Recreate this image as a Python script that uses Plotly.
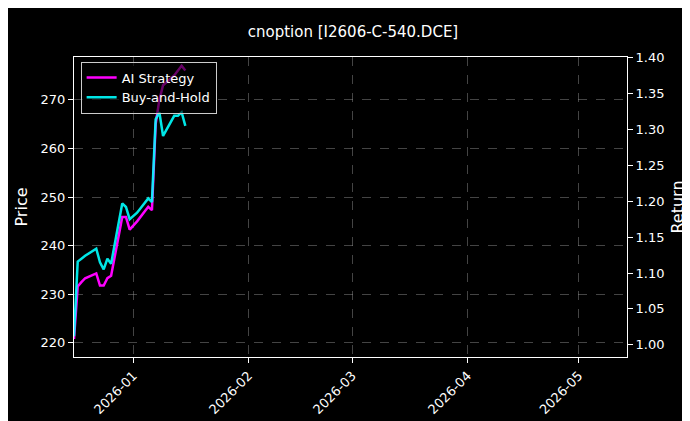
import plotly.graph_objects as go

dates = ["2025-12-16","2025-12-17","2025-12-18","2025-12-19","2025-12-22","2025-12-23","2025-12-24",
         "2025-12-25","2025-12-26","2025-12-29","2025-12-30","2025-12-31","2026-01-02","2026-01-05",
         "2026-01-06","2026-01-07","2026-01-08","2026-01-09","2026-01-12","2026-01-13","2026-01-14","2026-01-15"]
ai_price = [220.8,231.6,232.5,233.3,234.3,231.8,231.8,233.3,233.8,245.9,245.9,243.3,245.0,248.0,
            247.3,265.0,270.0,273.0,275.0,276.0,277.0,276.0]
bh_return = [1.012,1.116,1.120,1.124,1.134,1.115,1.105,1.120,1.113,1.197,1.192,1.175,1.184,1.204,
             1.199,1.314,1.324,1.291,1.319,1.319,1.324,1.305]

fig = go.Figure()
fig.add_trace(go.Scatter(x=dates, y=ai_price, name="AI Strategy", mode="lines",
                         line=dict(color="#ff00ff", width=2.5)))
fig.add_trace(go.Scatter(x=dates, y=bh_return, name="Buy-and-Hold", mode="lines", yaxis="y2",
                         line=dict(color="#00ffff", width=2.5), opacity=0.9))

base = dict(gridcolor="rgba(150,150,150,0.45)", griddash="dash", gridwidth=0.6,
            showline=True, linecolor="white", ticks="outside", tickcolor="white",
            zeroline=False, tickfont=dict(color="white", size=13))
fig.update_layout(
    width=690, height=421, paper_bgcolor="black", plot_bgcolor="black",
    font=dict(family="DejaVu Sans", color="white", size=13),
    margin=dict(l=66, r=71, t=49, b=70),
    title=dict(text="cnoption [I2606-C-540.DCE]", x=0.5, xanchor="center", y=0.955, font=dict(size=15)),
    xaxis=dict(range=["2025-12-16", "2026-05-14"], tickvals=["2026-01-01","2026-02-01","2026-03-01","2026-04-01","2026-05-01"],
               ticktext=["2026-01","2026-02","2026-03","2026-04","2026-05"], tickangle=-45, mirror=True,
               showgrid=True, **base),
    yaxis=dict(title=dict(text="Price", standoff=8), range=[217.1, 278.8], dtick=10, mirror=True,
               showgrid=True, **base),
    yaxis2=dict(title=dict(text="Return", standoff=8), overlaying="y", side="right", range=[0.983, 1.401],
                dtick=0.05, tickformat=".2f", showgrid=False, **base),
    legend=dict(x=0.012, y=0.985, xanchor="left", yanchor="top", bgcolor="rgba(0,0,0,0.6)",
                bordercolor="#cccccc", borderwidth=1, font=dict(color="white", size=13)),
    showlegend=True,
)
fig.write_html("out.html")
